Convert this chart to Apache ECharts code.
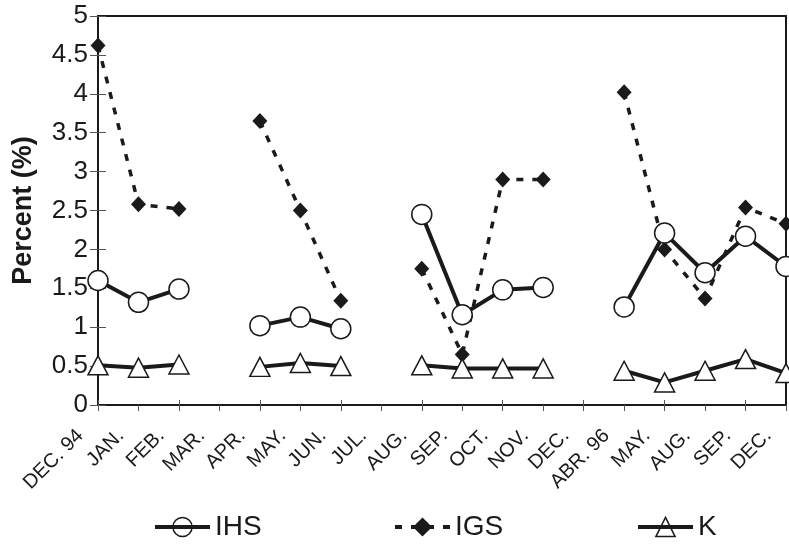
<!DOCTYPE html>
<html>
<head>
<meta charset="utf-8">
<script src="https://cdn.jsdelivr.net/npm/echarts@6/dist/echarts.min.js"></script>
<style>
  html, body { margin: 0; padding: 0; background: #fff; }
  #chart { width: 789px; height: 544px; }
</style>
</head>
<body>
<div id="chart"></div>
<script>
// Sampling dates along the x axis
const categories = ['DEC. 94', 'JAN.', 'FEB.', 'MAR.', 'APR.', 'MAY.', 'JUN.', 'JUL.', 'AUG.',
  'SEP.', 'OCT.', 'NOV.', 'DEC.', 'ABR. 96', 'MAY.', 'AUG.', 'SEP.', 'DEC.'];

// Percent values per index; null = no measurement (line breaks there)
const ihs = [1.60, 1.32, 1.49, null, 1.02, 1.13, 0.98, null, 2.45, 1.16, 1.48, 1.51, null, 1.26, 2.21, 1.70, 2.17, 1.78];
const igs = [4.62, 2.58, 2.52, null, 3.65, 2.50, 1.34, null, 1.75, 0.65, 2.90, 2.90, null, 4.02, 2.00, 1.37, 2.54, 2.33];
const k   = [0.51, 0.48, 0.52, null, 0.49, 0.54, 0.50, null, 0.51, 0.47, 0.47, 0.47, null, 0.44, 0.29, 0.44, 0.59, 0.41];

const yMin = 0, yMax = 5, yStep = 0.5;

const FONT = 'Liberation Sans, Arial, sans-serif';
const INK = '#1a1a1a';

const chart = echarts.init(document.getElementById('chart'), null, { renderer: 'canvas' });

// One legend per series so each entry sits at its own spot along the bottom
function legendAt(name, left, hollow) {
  const lg = {
    data: [name],
    left: left,
    top: 513,
    padding: 0,
    itemWidth: 55,
    itemHeight: 24,
    lineStyle: { width: 4 },
    textStyle: { fontFamily: FONT, fontSize: 28, color: INK },
    selectedMode: false
  };
  if (hollow) {
    lg.itemStyle = { color: 'rgba(255,255,255,0)', borderColor: INK, borderWidth: 1.5 };
  }
  return lg;
}

chart.setOption({
  animation: false,
  backgroundColor: '#fff',
  grid: {
    left: 98, right: 3, top: 16, bottom: 139,
    show: true, borderColor: INK, borderWidth: 2, backgroundColor: 'transparent'
  },
  legend: [legendAt('IHS', 153, true), legendAt('IGS', 393, false), legendAt('K', 636, true)],
  xAxis: [{
    type: 'category',
    data: categories,
    boundaryGap: false,
    axisLine: { lineStyle: { color: INK, width: 2 } },
    axisTick: { show: true, length: 6, lineStyle: { color: '#555', width: 1 } },
    axisLabel: {
      rotate: 45, interval: 0, margin: 10,
      fontFamily: FONT, fontSize: 20, color: INK,
      padding: [0, 25, 0, 0]
    },
    splitLine: { show: false }
  }, {
    // inner half of the crossing ticks
    type: 'category',
    data: categories,
    boundaryGap: false,
    position: 'bottom',
    axisLine: { show: false },
    axisTick: { show: true, inside: true, length: 5, lineStyle: { color: '#555', width: 1 } },
    axisLabel: { show: false },
    splitLine: { show: false }
  }],
  yAxis: [{
    type: 'value',
    min: yMin, max: yMax, interval: yStep,
    name: 'Percent (%)',
    nameLocation: 'middle',
    nameGap: 61,
    nameTextStyle: { fontFamily: FONT, fontSize: 27, fontWeight: 'bold', color: INK },
    axisLine: { show: true, lineStyle: { color: INK, width: 2 } },
    axisTick: { show: true, length: 8, lineStyle: { color: '#555', width: 1 } },
    axisLabel: { margin: 10, fontFamily: FONT, fontSize: 26, color: INK },
    splitLine: { show: false }
  }, {
    type: 'value',
    min: yMin, max: yMax, interval: yStep,
    position: 'left',
    axisLine: { show: false },
    axisTick: { show: true, inside: true, length: 8, lineStyle: { color: '#555', width: 1 } },
    axisLabel: { show: false },
    splitLine: { show: false }
  }],
  series: [{
    name: 'IHS',
    type: 'line',
    data: ihs,
    connectNulls: false,
    z: 4,
    symbol: 'circle',
    symbolSize: 20,
    lineStyle: { color: INK, width: 4 },
    itemStyle: { color: '#fff', borderColor: INK, borderWidth: 1.5 }
  }, {
    name: 'IGS',
    type: 'line',
    data: igs,
    connectNulls: false,
    z: 3,
    symbol: 'diamond',
    symbolSize: [15, 16],
    lineStyle: { color: INK, width: 3.5, type: [7, 9] },
    itemStyle: { color: INK, borderColor: INK, borderWidth: 0 }
  }, {
    name: 'K',
    type: 'line',
    data: k,
    connectNulls: false,
    z: 4,
    symbol: 'triangle',
    symbolSize: [20, 19],
    lineStyle: { color: INK, width: 4 },
    itemStyle: { color: '#fff', borderColor: INK, borderWidth: 1.5 }
  }]
});
</script>
</body>
</html>
